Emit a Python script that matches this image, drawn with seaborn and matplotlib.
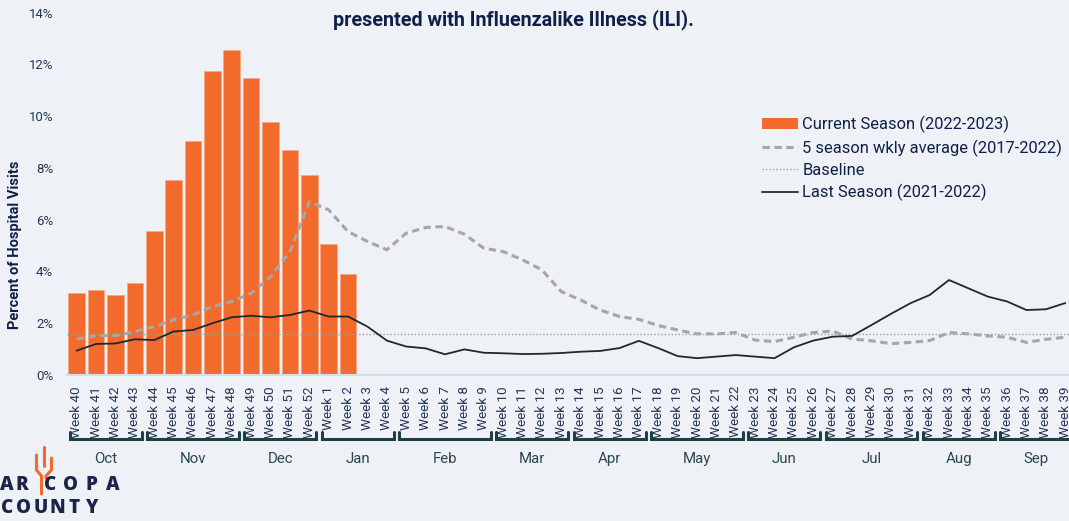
import numpy as np
import pandas as pd
import matplotlib.pyplot as plt
import seaborn as sns
from matplotlib.patches import Patch
from matplotlib.lines import Line2D
from matplotlib.transforms import blended_transform_factory

# week labels for the season (week 40 through week 39)
week_numbers = list(range(40, 53)) + list(range(1, 40))
weeks = [f"Week {w}" for w in week_numbers]

# current season 2022-2023 (only weeks 40 .. 2 reported)
current_season = [3.16, 3.30, 3.09, 3.55, 5.57, 7.52, 9.06, 11.73, 12.57,
                  11.48, 9.78, 8.68, 7.71, 5.06, 3.90]

# 5 season weekly average 2017-2022
five_season_avg = [1.39, 1.52, 1.52, 1.68, 1.87, 2.13, 2.32, 2.64, 2.84, 3.16,
                   3.80, 4.77, 6.70, 6.38, 5.54, 5.16, 4.84, 5.48, 5.70, 5.74,
                   5.44, 4.90, 4.77, 4.45, 4.06, 3.22, 2.90, 2.51, 2.26, 2.15,
                   1.91, 1.74, 1.59, 1.59, 1.64, 1.35, 1.29, 1.46, 1.64, 1.70,
                   1.39, 1.32, 1.21, 1.26, 1.33, 1.64, 1.59, 1.51, 1.46, 1.26,
                   1.38, 1.46]

# last season 2021-2022
last_season = [0.94, 1.20, 1.22, 1.38, 1.35, 1.68, 1.74, 2.00, 2.23, 2.29,
               2.23, 2.32, 2.49, 2.26, 2.26, 1.87, 1.33, 1.10, 1.03, 0.80,
               0.99, 0.86, 0.84, 0.81, 0.82, 0.85, 0.90, 0.93, 1.04, 1.32,
               1.04, 0.73, 0.65, 0.71, 0.77, 0.71, 0.65, 1.07, 1.33, 1.48,
               1.51, 1.93, 2.36, 2.77, 3.09, 3.67, 3.35, 3.03, 2.84, 2.51,
               2.54, 2.78]

baseline = 1.6

months = ['Oct', 'Nov', 'Dec', 'Jan', 'Feb', 'Mar', 'Apr', 'May', 'Jun', 'Jul', 'Aug', 'Sep']
weeks_per_month = [4, 5, 4, 4, 5, 4, 4, 5, 4, 5, 4, 4]

bg = '#eef2f6'
orange = '#f26a2c'
navy = '#0f1f48'
text_col = '#263656'
teal = '#1d3f47'

sns.set_theme(style='white')
plt.rcParams['font.family'] = ['Roboto', 'DejaVu Sans']

W, H = 1069, 521
fig = plt.figure(figsize=(W / 100, H / 100), dpi=100, facecolor=bg)
ax = fig.add_axes([67 / W, 146 / H, 1008 / W, 362.3 / H])
ax.set_facecolor(bg)

df_cur = pd.DataFrame({'week': weeks[:len(current_season)], 'pct': current_season})
sns.barplot(data=df_cur, x='week', y='pct', order=weeks, color=orange, saturation=1,
            width=0.86, edgecolor='#f7a882', linewidth=0.6, ax=ax)

pos = np.arange(len(weeks))
ax.axhline(baseline, color='#9e9e9e', lw=1.0, linestyle=(0, (1, 1.5)), zorder=3)
sns.lineplot(x=pos, y=five_season_avg, ax=ax, color='#a6a6a6', lw=2.2,
             linestyle=(0, (2.4, 1.5)), zorder=4)
sns.lineplot(x=pos, y=last_season, ax=ax, color='#1b2a2e', lw=1.3, zorder=5)

ax.set_xlim(-0.5, len(weeks) - 0.5)
ax.set_ylim(0, 14)
ax.set_yticks(range(0, 15, 2))
ax.set_yticklabels([f"{v}%" for v in range(0, 15, 2)], fontsize=9.5, color=text_col)
ax.set_xticks(pos)
ax.set_xticklabels(weeks, rotation=90, fontsize=9.7, color=text_col)
ax.tick_params(axis='x', length=0, pad=8)
ax.tick_params(axis='y', length=0, pad=10)
ax.set_xlabel('')
ax.set_ylabel('')
for s in ['top', 'right', 'left']:
    ax.spines[s].set_visible(False)
ax.spines['bottom'].set_color('#d6dfe9')
ax.spines['bottom'].set_linewidth(1.5)

# month brackets under the week labels
trans = blended_transform_factory(ax.transData, ax.transAxes)
y_line, y_tip, y_text = -0.176, -0.157, -0.232
start = 0
for m, n in zip(months, weeks_per_month):
    x0 = start - 0.5 + 0.15
    x1 = start + n - 0.5 - 0.15
    ax.plot([x0, x0, x1, x1], [y_tip, y_line, y_line, y_tip], transform=trans,
            clip_on=False, color=teal, lw=2.2, solid_joinstyle='miter')
    ax.text((x0 + x1) / 2, y_text, m, transform=trans, ha='center', va='center',
            fontsize=10.8, color='#2c4650')
    start += n

handles = [Patch(facecolor=orange, edgecolor='none'),
           Line2D([], [], color='#a6a6a6', lw=2.2, linestyle=(0, (2.4, 1.5))),
           Line2D([], [], color='#9e9e9e', lw=1.0, linestyle=(0, (1, 1.5))),
           Line2D([], [], color='#1b2a2e', lw=1.3)]
labels = ['Current Season (2022-2023)', '5 season wkly average (2017-2022)',
          'Baseline', 'Last Season (2021-2022)']
fig.legend(handles, labels, loc='upper left', bbox_to_anchor=(762 / W, 1 - 116 / H),
           frameon=False, fontsize=11.9, handlelength=2.2, handletextpad=0.25,
           labelspacing=0.37, labelcolor=navy, borderaxespad=0, borderpad=0)

fig.text(333 / W, 1 - 20 / H, 'presented with Influenzalike Illness (ILI).',
         ha='left', va='center', fontsize=14.2, fontweight='bold', color=navy)

fig.text(15 / W, 1 - 245 / H, 'Percent of Hospital Visits', rotation=90,
         ha='center', va='center', fontsize=10.5, fontweight='bold', color=navy)

# county logo at the bottom left, letters spread out like the wordmark
logo_col = '#1b2449'
logo_font = ['Open Sans', 'DejaVu Sans']
for word, x0, step, y in [('AR', 6.5, 15, 485), ('COPA', 50, 20.8, 485),
                          ('COUNTY', 7, 16.8, 508)]:
    for i, ch in enumerate(word):
        fig.text((x0 + i * step) / W, 1 - y / H, ch, fontsize=13.5, fontweight='heavy',
                 color=logo_col, ha='center', va='center', family=logo_font)
cactus = [([36.5, 36.5, 41.5, 41.5], [455, 470, 476, 494]),
          ([44, 44], [447, 466]),
          ([51.5, 51.5, 46, 46], [458, 470, 476, 478])]
for xs, ys in cactus:
    fig.add_artist(Line2D([x / W for x in xs], [1 - y / H for y in ys],
                          transform=fig.transFigure, color=orange, lw=2.2,
                          solid_joinstyle='miter'))

plt.savefig('out.png', dpi=100, facecolor=bg)
